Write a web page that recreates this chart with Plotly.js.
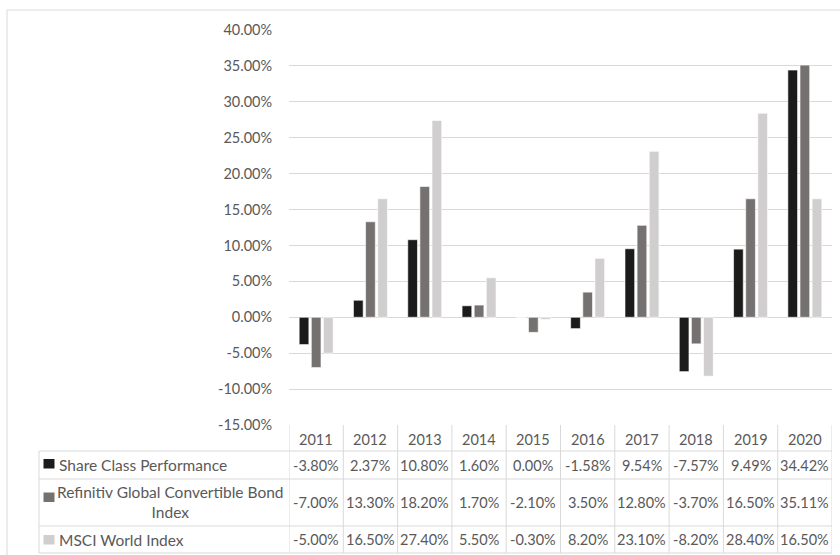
<!DOCTYPE html>
<html>
<head>
<meta charset="utf-8">
<script src="https://cdn.plot.ly/plotly-3.0.1.min.js"></script>
<style>html,body{margin:0;padding:0;background:#fff;}#chart{width:840px;height:555px;}</style>
</head>
<body>
<div id="chart"></div>
<script>
var years = ['2011','2012','2013','2014','2015','2016','2017','2018','2019','2020'];
var seriesNames = ['Share Class Performance', 'Refinitiv Global Convertible Bond<br>Index', 'MSCI World Index'];
var shareClass = [-3.80, 2.37, 10.80, 1.60, 0.00, -1.58, 9.54, -7.57, 9.49, 34.42];
var refinitiv = [-7.00, 13.30, 18.20, 1.70, -2.10, 3.50, 12.80, -3.70, 16.50, 35.11];
var msci = [-5.00, 16.50, 27.40, 5.50, -0.30, 8.20, 23.10, -8.20, 28.40, 16.50];
var yTickVals = [-15, -10, -5, 0, 5, 10, 15, 20, 25, 30, 35, 40];
var yTickText = ['-15.00%', '-10.00%', '-5.00%', '0.00%', '5.00%', '10.00%', '15.00%', '20.00%', '25.00%', '30.00%', '35.00%', '40.00%'];
var colors = ['#1b1b1b', '#767171', '#d0cece'];

var allSeries = [shareClass, refinitiv, msci];
var FONT = 'Lato, "Open Sans", sans-serif';
var TXT = '#595959';
var LINE = '#d9d9d9';
var TSIZE = 14.5;

// layout geometry (pixels -> paper)
var L = 289, R = 8, T = 30, B = 130, W = 840, H = 555;
var pw = W - L - R, ph = H - T - B;
function px(p) { return (p - L) / pw; }
function py(p) { return (H - B - p) / ph; }

var traces = allSeries.map(function (vals, k) {
  return {
    type: 'bar', x: years, y: vals, name: seriesNames[k],
    marker: { color: colors[k], line: { color: '#ffffff', width: 0.6 } },
    hoverinfo: 'x+y'
  };
});

var shapes = [];
var annotations = [];

// outer chart border
shapes.push({ type: 'rect', xref: 'paper', yref: 'paper', x0: px(7), x1: px(846), y0: py(10), y1: py(562),
  line: { color: LINE, width: 1 } });

// table rows (pixel y of boundaries)
var rowLines = [451, 479, 526, 553];
rowLines.forEach(function (yy) {
  shapes.push({ type: 'line', xref: 'paper', yref: 'paper', x0: px(39), x1: 1, y0: py(yy), y1: py(yy),
    line: { color: LINE, width: 1 } });
});
// left label column border
shapes.push({ type: 'line', xref: 'paper', yref: 'paper', x0: px(39), x1: px(39), y0: py(451), y1: py(553),
  line: { color: LINE, width: 1 } });
// column borders
for (var i = 0; i <= years.length; i++) {
  shapes.push({ type: 'line', xref: 'x', yref: 'paper', x0: i - 0.5, x1: i - 0.5, y0: 0, y1: py(553),
    line: { color: LINE, width: 1 } });
}

// header years
years.forEach(function (yr, i) {
  annotations.push({ xref: 'x', yref: 'paper', x: i, y: py(439), text: yr, showarrow: false,
    xanchor: 'center', yanchor: 'middle', font: { family: FONT, size: TSIZE, color: TXT } });
});

// value cells
var rowCenters = [465, 502.5, 539.5];
allSeries.forEach(function (vals, k) {
  vals.forEach(function (v, i) {
    annotations.push({ xref: 'x', yref: 'paper', x: i, y: py(rowCenters[k]), text: v.toFixed(2) + '%',
      showarrow: false, xanchor: 'center', yanchor: 'middle', font: { family: FONT, size: TSIZE, color: TXT } });
  });
});

// legend keys in table
var keyTops = [459, 492.5, 535];
keyTops.forEach(function (t, k) {
  shapes.push({ type: 'rect', xref: 'paper', yref: 'paper', x0: px(43.5), x1: px(54.5), y0: py(t), y1: py(t + 9.5),
    fillcolor: colors[k], line: { width: 0 } });
});
// legend labels
annotations.push({ xref: 'paper', yref: 'paper', x: px(57), y: py(465), text: seriesNames[0], showarrow: false,
  xanchor: 'left', yanchor: 'middle', font: { family: FONT, size: 15.5, color: TXT } });
annotations.push({ xref: 'paper', yref: 'paper', x: px(170), y: py(502), text: seriesNames[1], showarrow: false,
  xanchor: 'center', yanchor: 'middle', align: 'center', font: { family: FONT, size: 15.5, color: TXT } });
annotations.push({ xref: 'paper', yref: 'paper', x: px(57), y: py(539.5), text: seriesNames[2], showarrow: false,
  xanchor: 'left', yanchor: 'middle', font: { family: FONT, size: 15.5, color: TXT } });

var layout = {
  width: W, height: H,
  margin: { l: L, r: R, t: T, b: B, pad: 0 },
  paper_bgcolor: '#ffffff', plot_bgcolor: '#ffffff',
  showlegend: false,
  barmode: 'group', bargap: 0.33, bargroupgap: 0.2,
  font: { family: FONT, size: 14, color: TXT },
  xaxis: { type: 'category', showticklabels: false, showgrid: false, zeroline: false, showline: false,
    ticks: '', range: [-0.5, 9.5], fixedrange: true },
  yaxis: { range: [-15, 40], tickvals: yTickVals, ticktext: yTickText, showgrid: true, gridcolor: LINE,
    gridwidth: 1, zeroline: false, showline: false, ticks: 'outside', ticklen: 13, tickcolor: 'rgba(0,0,0,0)',
    tickfont: { family: FONT, size: 14.5, color: TXT }, fixedrange: true },
  shapes: shapes,
  annotations: annotations
};

Plotly.newPlot('chart', traces, layout, { displayModeBar: false, staticPlot: true });
</script>
</body>
</html>
